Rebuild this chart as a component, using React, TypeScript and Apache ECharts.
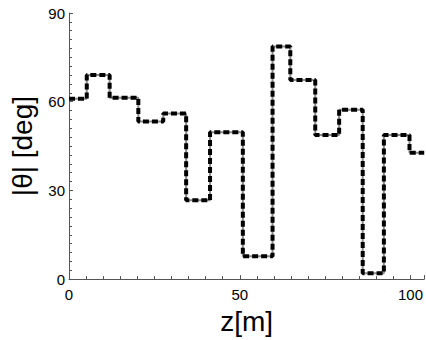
import React, { useEffect, useRef } from "react";
import * as echarts from "echarts";

const zStarts = [0, 5.2, 11.9, 20.3, 27.6, 34.3, 41.3, 50.9, 59.6, 64.8, 72.1, 79.1, 86.0, 92.2, 99.7, 104];
const thetaValues = [61, 69, 61.3, 53.3, 56, 26.7, 49.7, 7.7, 78.7, 67.3, 48.7, 57.3, 2, 48.7, 42.7, 42.7];
const xTicks = [0, 50, 100];
const yTicks = [0, 30, 60, 90];

export default function App() {
  const ref = useRef<HTMLDivElement>(null);
  useEffect(() => {
    if (!ref.current) return;
    const chart = echarts.init(ref.current, null, { renderer: "svg" });
    const data = zStarts.map((z, i) => [z, thetaValues[i]]);
    const font = "'Liberation Sans', Arial, Helvetica, sans-serif";
    chart.setOption({
      animation: false,
      backgroundColor: "#ffffff",
      grid: { left: 68, right: 0, top: 13, bottom: 57, containLabel: false },
      xAxis: {
        type: "value",
        min: xTicks[0],
        max: 104,
        interval: 50,
        name: "z[m]",
        nameLocation: "middle",
        nameGap: 22,
        nameTextStyle: { fontSize: 28, color: "#000", fontFamily: font },
        axisLine: { show: true, onZero: false, lineStyle: { color: "#555", width: 1 } },
        axisTick: { show: true, inside: true, length: 4, lineStyle: { color: "#555" } },
        minorTick: { show: true, splitNumber: 10, length: 3, lineStyle: { color: "#555", width: 1 } },
        splitLine: { show: false },
        axisLabel: { fontSize: 15, color: "#000", margin: 8, fontFamily: font, showMaxLabel: false,
          formatter: (v: number) => (xTicks.includes(v) ? String(v) : "") },
      },
      yAxis: {
        type: "value",
        min: yTicks[0],
        max: yTicks[yTicks.length - 1],
        interval: 30,
        name: "|θ| [deg]",
        nameLocation: "middle",
        nameRotate: 90,
        nameGap: 33,
        nameTextStyle: { fontSize: 28, color: "#000", fontFamily: font },
        axisLine: { show: true, lineStyle: { color: "#555", width: 1 } },
        axisTick: { show: true, inside: true, length: 4, lineStyle: { color: "#555" } },
        minorTick: { show: true, splitNumber: 10, length: 3, lineStyle: { color: "#555", width: 1 } },
        splitLine: { show: false },
        axisLabel: { fontSize: 15, color: "#000", margin: 4, fontFamily: font },
      },
      series: [
        {
          type: "line",
          data,
          step: "end",
          symbol: "none",
          lineStyle: { color: "#8a8a8a", width: 2, type: "solid" },
          z: 2,
        },
        {
          type: "line",
          data,
          step: "end",
          symbol: "none",
          lineStyle: { color: "#000", width: 4, type: [6, 3] },
          z: 3,
        },
      ],
    });
    return () => chart.dispose();
  }, []);
  return <div ref={ref} style={{ position: "fixed", left: 0, top: 0, width: 426, height: 340 }} />;
}
